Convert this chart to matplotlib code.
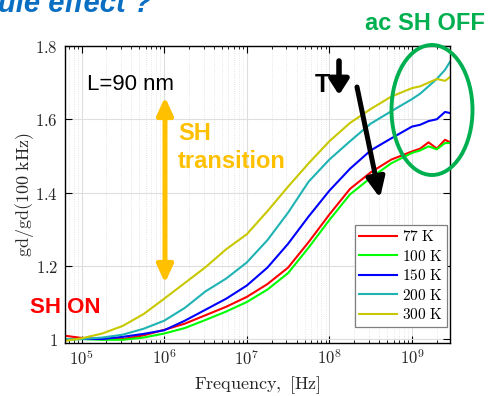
import numpy as np
import matplotlib
matplotlib.use("Agg")
import matplotlib.pyplot as plt
from matplotlib.patches import Ellipse, FancyArrowPatch
from matplotlib.ticker import FixedLocator, FixedFormatter, LogLocator, NullFormatter

plt.rcParams['mathtext.fontset'] = 'cm'

# ---- data (log10 of frequency in Hz) ----
log_freq = [4.8, 5.0, 5.25, 5.5, 5.75, 6.0, 6.25, 6.5, 6.75, 7.0, 7.25, 7.5, 7.75,
            8.0, 8.25, 8.5, 8.75, 9.0, 9.1, 9.2, 9.3, 9.4, 9.46]
gd_77K = [1.009, 1.003, 1.000, 1.000, 1.010, 1.025, 1.042, 1.065, 1.088, 1.115, 1.150, 1.195, 1.265,
          1.340, 1.410, 1.455, 1.490, 1.512, 1.520, 1.537, 1.520, 1.544, 1.537]
gd_100K = [0.998, 1.000, 0.998, 0.998, 1.004, 1.015, 1.030, 1.052, 1.075, 1.101, 1.135, 1.180, 1.250,
           1.325, 1.395, 1.440, 1.480, 1.508, 1.515, 1.526, 1.518, 1.535, 1.535]
gd_150K = [1.000, 1.000, 1.000, 1.006, 1.014, 1.024, 1.050, 1.080, 1.110, 1.146, 1.195, 1.260, 1.335,
           1.405, 1.465, 1.515, 1.548, 1.580, 1.585, 1.595, 1.600, 1.620, 1.617]
gd_200K = [1.000, 1.000, 1.004, 1.012, 1.028, 1.050, 1.085, 1.130, 1.165, 1.209, 1.270, 1.345, 1.430,
           1.490, 1.540, 1.588, 1.622, 1.655, 1.670, 1.690, 1.710, 1.735, 1.757]
gd_300K = [0.995, 1.002, 1.015, 1.036, 1.068, 1.110, 1.153, 1.196, 1.245, 1.286, 1.349, 1.416, 1.480,
           1.540, 1.590, 1.628, 1.662, 1.685, 1.690, 1.700, 1.710, 1.705, 1.715]

series = [gd_77K, gd_100K, gd_150K, gd_200K, gd_300K]
labels = ['77 K', '100 K', '150 K', '200 K', '300 K']
colors = ['#ff0000', '#00ff00', '#0000ff', '#1fb3b3', '#c8c800']

xtick_vals = [1e5, 1e6, 1e7, 1e8, 1e9]
xtick_labels = [r'$10^{5}$', r'$10^{6}$', r'$10^{7}$', r'$10^{8}$', r'$10^{9}$']
ytick_vals = [1.0, 1.2, 1.4, 1.6, 1.8]
ytick_labels = [r'$1$', r'$1.2$', r'$1.4$', r'$1.6$', r'$1.8$']

W, H = 488, 396
fig = plt.figure(figsize=(W / 100, H / 100), dpi=100)
ax = fig.add_axes([65 / W, 1 - 342.7 / H, (450 - 65) / W, (342.7 - 46) / H])

freq = 10 ** np.array(log_freq)
for vals, lab, col in zip(series, labels, colors):
    ax.plot(freq, vals, color=col, lw=1.5, label=r'$\mathrm{' + lab.replace(' ', r'\ ') + '}$')

ax.set_xscale('log')
ax.set_xlim(10 ** 4.8, 10 ** 9.46)
ax.set_ylim(0.99, 1.8)
ax.xaxis.set_major_locator(FixedLocator(xtick_vals))
ax.xaxis.set_major_formatter(FixedFormatter(xtick_labels))
ax.xaxis.set_minor_locator(LogLocator(base=10, subs=np.arange(2, 10)))
ax.xaxis.set_minor_formatter(NullFormatter())
ax.yaxis.set_major_locator(FixedLocator(ytick_vals))
ax.yaxis.set_major_formatter(FixedFormatter(ytick_labels))

ax.tick_params(which='both', direction='in', top=True, right=True, labelsize=12,
               color='black', labelcolor='#262626')
ax.tick_params(which='major', length=5, width=0.8, pad=5)
ax.tick_params(which='minor', length=2.5, width=0.6)
for sp in ax.spines.values():
    sp.set_linewidth(1.0)

ax.grid(which='major', color='#dedede', lw=0.8)
ax.grid(which='minor', axis='x', color='#dedede', lw=0.6, ls=':')
ax.set_axisbelow(True)

ax.set_xlabel(r'$\mathrm{Frequency,\ [Hz]}$', fontsize=13, labelpad=4, color='#262626')
ax.set_ylabel(r'$\mathrm{gd/gd(100\ kHz)}$', fontsize=13, labelpad=-0.5, color='#262626')

leg = ax.legend(loc='lower right', bbox_to_anchor=((447 - 65) / 385, (342.7 - 327) / 296.7),
                borderaxespad=0, fontsize=11, handlelength=2.5, labelspacing=0.3,
                borderpad=0.3, handletextpad=0.3, fancybox=False, framealpha=1,
                edgecolor='#7f7f7f')
leg.get_frame().set_linewidth(0.9)


def fx(x):
    return x / W


def fy(y):
    return 1 - y / H


sans = 'Liberation Sans'
# partial title at very top (cut off in the reference too)
fig.text(fx(152), fy(11.5), 'Joule effect ?', ha='right', va='baseline', fontsize=21,
         family=sans, weight='bold', style='italic', color='#0a6fc2')
fig.text(fx(365), fy(30), 'ac SH OFF', ha='left', va='baseline', fontsize=17,
         family=sans, weight='bold', color='#00b050')
fig.text(fx(87), fy(90), 'L=90 nm', ha='left', va='baseline', fontsize=16,
         family=sans, color='black')
fig.text(fx(178), fy(140), 'SH', ha='left', va='baseline', fontsize=17,
         family=sans, weight='bold', color='#ffc000')
fig.text(fx(178), fy(168), 'transition', ha='left', va='baseline', fontsize=17,
         family=sans, weight='bold', color='#ffc000')
fig.text(fx(30), fy(312.7), 'SH ON', ha='left', va='baseline', fontsize=16,
         family=sans, weight='bold', color='#ff0000')
fig.text(fx(315), fy(92), 'T', ha='left', va='baseline', fontsize=18,
         family=sans, weight='bold', color='black')


def arrow(x0, y0, x1, y1, color, lw, hl, hw, style='-|>'):
    fig.add_artist(FancyArrowPatch(
        (fx(x0), fy(y0)), (fx(x1), fy(y1)), transform=fig.transFigure,
        arrowstyle=f'{style},head_length={hl},head_width={hw}', mutation_scale=10,
        color=color, lw=lw, shrinkA=0, shrinkB=0))


arrow(165, 97, 165, 283, '#ffc000', 3.6, 1.05, 0.48, style='<|-|>')
arrow(339, 61, 339, 95, 'black', 4.0, 0.9, 0.58)
arrow(357, 87, 380, 198, 'black', 3.6, 1.2, 0.55)

fig.add_artist(Ellipse((fx(432), fy(110)), 81 / W, 130 / H, transform=fig.transFigure,
                       fill=False, edgecolor='#00b050', lw=2.8))

fig.savefig('out.png', dpi=100)
